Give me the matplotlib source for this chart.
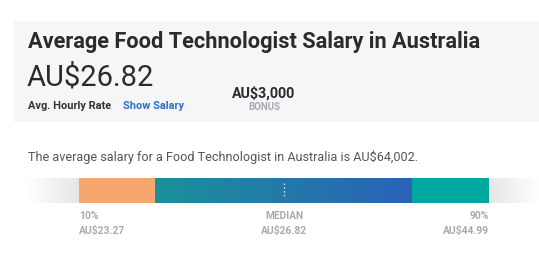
import numpy as np
import matplotlib.pyplot as plt
from matplotlib.patches import Rectangle
from matplotlib.colors import LinearSegmentedColormap

plt.rcParams['font.family'] = ['Roboto', 'DejaVu Sans']

job = 'Food Technologist'
country = 'Australia'
hourly_avg = 26.82
bonus = 3000
annual_avg = 64002
pct_labels = ['10%', 'MEDIAN', '90%']
pct_values = [23.27, 26.82, 44.99]
# segment widths of the range bar (orange, middle gradient, teal)
seg_widths = [76, 257, 77]

fig = plt.figure(figsize=(5.39, 2.63), dpi=100)
ax = fig.add_axes([0, 0, 1, 1])
ax.set_xlim(0, 539)
ax.set_ylim(263, 0)
ax.axis('off')

# header panel
ax.add_patch(Rectangle((14, 21), 525, 101, color='#f5f6f8', lw=0))
ax.text(28, 48, f'Average {job} Salary in {country}', fontsize=15.7,
        fontweight='bold', color='#2b2b2b', va='baseline')
ax.text(27, 85, f'AU${hourly_avg:.2f}', fontsize=21, color='#2b2b2b',
        va='baseline')
ax.text(28, 109, 'Avg. Hourly Rate', fontsize=7.9, fontweight='bold',
        color='#333333', va='baseline')
ax.text(123, 109, 'Show Salary', fontsize=7.9, fontweight='bold',
        color='#2f6fcb', va='baseline')
ax.text(264, 97.5, f'AU${bonus:,}', fontsize=10.3, fontweight='bold',
        color='#2b2b2b', va='baseline', ha='center')
ax.text(264, 110, 'BONUS', fontsize=7, fontweight='bold',
        color='#a9a9b3', va='baseline', ha='center')

ax.text(28, 161, f'The average salary for a {job} in {country} is AU${annual_avg:,}.',
        fontsize=9.1, color='#555555', va='baseline')

# range bar
y0, y1 = 178, 203
x0 = 79
edges = np.concatenate([[x0], x0 + np.cumsum(seg_widths)])

fade = LinearSegmentedColormap.from_list('fade', ['#ffffff', '#e6e6ea'])
grad = np.linspace(0, 1, 256).reshape(1, -1)
ax.imshow(grad, cmap=fade, extent=(28, edges[0], y1, y0), aspect='auto')
ax.imshow(grad[:, ::-1], cmap=fade, extent=(edges[-1], 539, y1, y0), aspect='auto')

ax.add_patch(Rectangle((edges[0], y0), seg_widths[0], y1 - y0, color='#f7a66e', lw=0))
mid = LinearSegmentedColormap.from_list('mid', ['#1a9199', '#2b62b9'])
ax.imshow(grad, cmap=mid, extent=(edges[1], edges[2], y1, y0), aspect='auto')
ax.add_patch(Rectangle((edges[2], y0), seg_widths[2], y1 - y0, color='#00a99f', lw=0))

xm = 284
ax.plot([xm, xm], [y0 + 5, y1 - 5], color='#c8dbe6', lw=1, ls=(0, (1.2, 1.5)))

label_x = [edges[0], xm, edges[-1]]
aligns = ['left', 'center', 'right']
for lab, val, x, ha in zip(pct_labels, pct_values, label_x, aligns):
    ax.text(x, 218.7, lab, fontsize=7.4, fontweight='bold', color='#a9a9b3',
            va='baseline', ha=ha)
    ax.text(x, 234, f'AU${val:.2f}', fontsize=7.4, fontweight='bold',
            color='#a9a9b3', va='baseline', ha=ha)

fig.savefig('out.png', dpi=100)
